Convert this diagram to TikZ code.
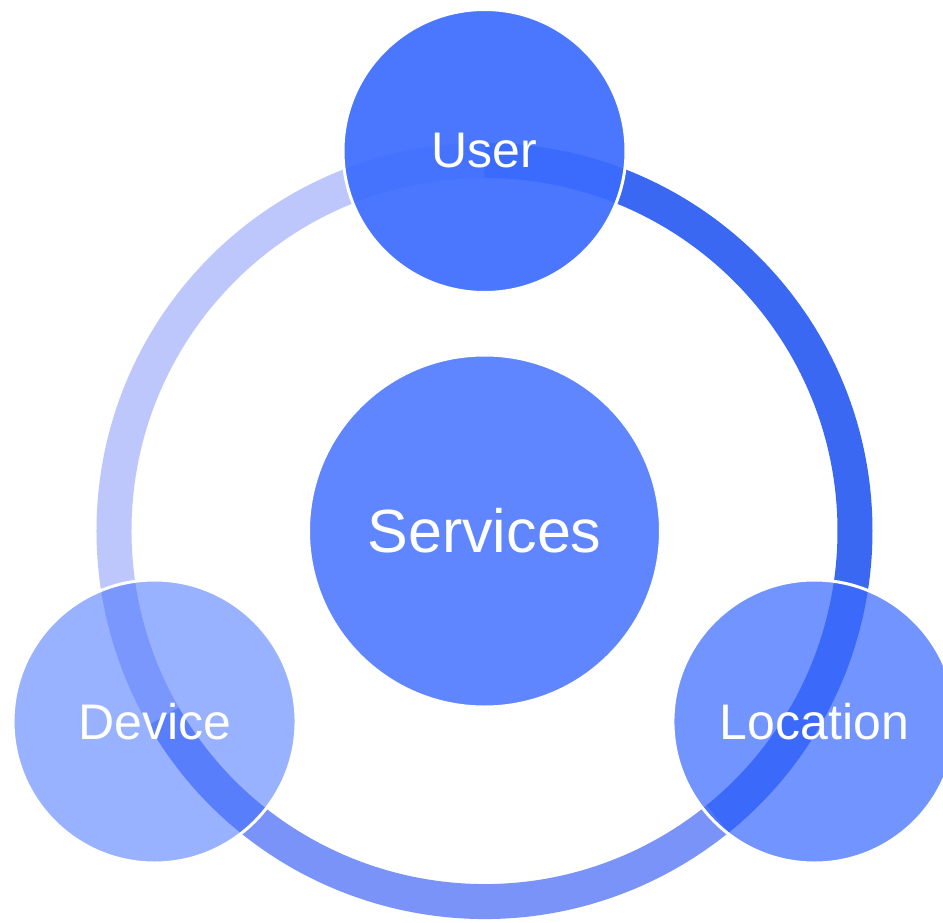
\documentclass[tikz,border=0pt]{standalone}
\usepackage{fontspec}
\setmainfont{Liberation Sans}
\definecolor{base}{RGB}{60,108,255}
\definecolor{arcdark}{RGB}{58,104,242}
\definecolor{arcmid}{RGB}{122,147,249}
\definecolor{arclight}{RGB}{190,199,252}
\tikzset{
  ringarc/.style={line width=35pt, line cap=butt},
  bubble/.style={circle, fill=base, draw=white, line width=3pt, inner sep=0pt,
    minimum size=283pt, text=white, text opacity=1, font=\fontsize{50}{50}\selectfont},
}
\begin{document}
\begin{tikzpicture}[x=1pt,y=1pt]
  \clip (-484.5,-391) rectangle (458.5,531);
  \fill[white] (-484.5,-391) rectangle (458.5,531);
  % ring segments
  \draw[ringarc, arclight] (90:370.5) arc[start angle=90, end angle=210, radius=370.5];
  \draw[ringarc, arcmid] (210:370.5) arc[start angle=210, end angle=330, radius=370.5];
  \draw[ringarc, arcdark] (90:370.5) arc[start angle=90, end angle=-51, radius=370.5];
  % bubbles
  \node[bubble, fill opacity=0.82, minimum size=352pt, font=\fontsize{61}{61}\selectfont] (services) at (0,0) {Services};
  \node[bubble, fill opacity=0.92] (user) at (90:380) {User};
  \node[bubble, fill opacity=0.52] (device) at (210:381) {Device};
  \node[bubble, fill opacity=0.72] (location) at (-30:381) {Location};
\end{tikzpicture}
\end{document}
